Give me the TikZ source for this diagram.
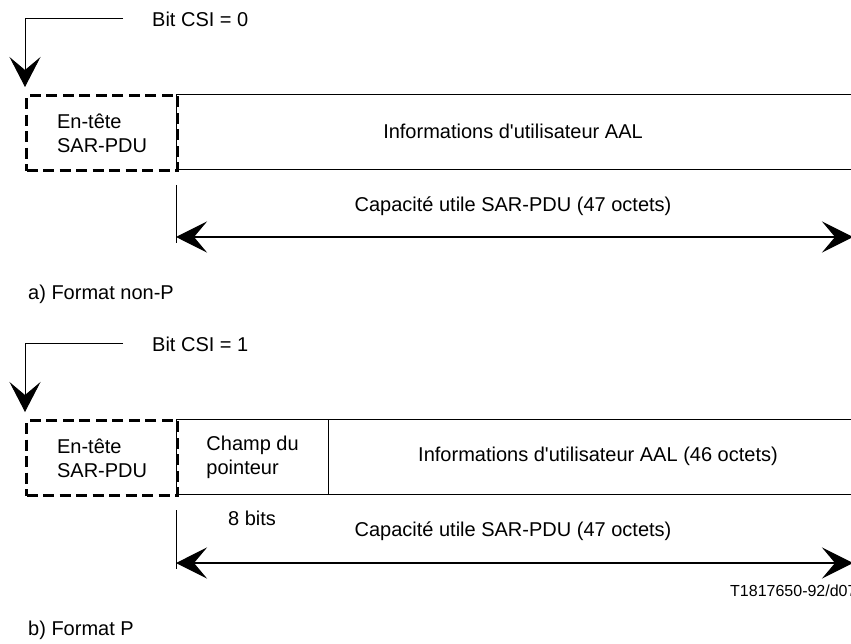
\documentclass[tikz,border=0pt]{standalone}
\usepackage{fontspec}
\setmainfont{Liberation Sans}
\usetikzlibrary{arrows.meta}

\tikzset{
  field/.style={draw=black, line width=1.2pt, inner sep=0pt, minimum height=75pt},
  hdrbox/.style={draw=black, line width=3.2pt, dash pattern=on 11pt off 5.5pt,
                 inner sep=0pt, minimum width=151pt, minimum height=75pt, align=left},
  txt/.style={inner sep=0pt, font=\fontsize{20}{24}\selectfont},
  smalltxt/.style={inner sep=0pt, font=\fontsize{16}{19}\selectfont},
  csiline/.style={draw=black, line width=0.9pt},
  bigtip/.tip={Stealth[length=31pt, width=31pt, inset=13pt]},
  span/.style={draw=black, line width=1.3pt, bigtip-bigtip},
  tick/.style={draw=black, line width=1pt}
}

\begin{document}
\begin{tikzpicture}[x=1pt, y=-1pt, font=\fontsize{20}{24}\selectfont]
\useasboundingbox (0,0) rectangle (851,644);

% ---------- a) Format non-P ----------
\node[txt, anchor=west] (csiA) at (152,19) {Bit CSI = 0};
\coordinate (csiAstart) at (123,18);
\coordinate (csiAtip) at (25,87);
\draw[csiline, -{Stealth[length=30pt, width=31pt, inset=13pt]}]
  (csiAstart) -| (csiAtip);

\node[field, minimum width=680pt, anchor=north west] (infoA) at (176,94) {};
\node[hdrbox, anchor=north west] (hdrA) at (25,94) {En-tête\\SAR-PDU};
\node[txt] (infoAtxt) at (513,131) {Informations d\textquotesingle utilisateur AAL};

\coordinate (tickAtop) at (176,185);
\coordinate (tickAbot) at (176,243);
\draw[tick] (tickAtop) -- (tickAbot);
\node[txt] (payA) at (513,206) {Capacité utile SAR-PDU (47 octets)};
\coordinate (spanAl) at (176,237);
\coordinate (spanAr) at (853,237);
\draw[span] (spanAl) -- (spanAr);

\node[txt, anchor=west] (capA) at (28,294) {a) Format non-P};

% ---------- b) Format P ----------
\node[txt, anchor=west] (csiB) at (152,344) {Bit CSI = 1};
\coordinate (csiBstart) at (123,343);
\coordinate (csiBtip) at (25,412);
\draw[csiline, -{Stealth[length=30pt, width=31pt, inset=13pt]}]
  (csiBstart) -| (csiBtip);

\node[field, minimum width=530pt, anchor=north west] (infoB) at (328,419) {};
\node[field, minimum width=152pt, anchor=north west, align=left] (ptrB) at (176,419)
  {Champ du\\pointeur};
\node[hdrbox, anchor=north west] (hdrB) at (25,419) {En-tête\\SAR-PDU};
\node[txt] (infoBtxt) at (598,456) {Informations d\textquotesingle utilisateur AAL (46 octets)};

\node[txt] (bitsB) at (252,518) {8 bits};
\coordinate (tickBtop) at (176,510);
\coordinate (tickBbot) at (176,569);
\draw[tick] (tickBtop) -- (tickBbot);
\node[txt] (payB) at (513,531) {Capacité utile SAR-PDU (47 octets)};
\coordinate (spanBl) at (176,563);
\coordinate (spanBr) at (853,563);
\draw[span] (spanBl) -- (spanBr);

\node[smalltxt, anchor=west] (ref) at (730,591) {T1817650-92/d07};
\node[txt, anchor=west] (capB) at (28,630) {b) Format P};
\end{tikzpicture}
\end{document}
